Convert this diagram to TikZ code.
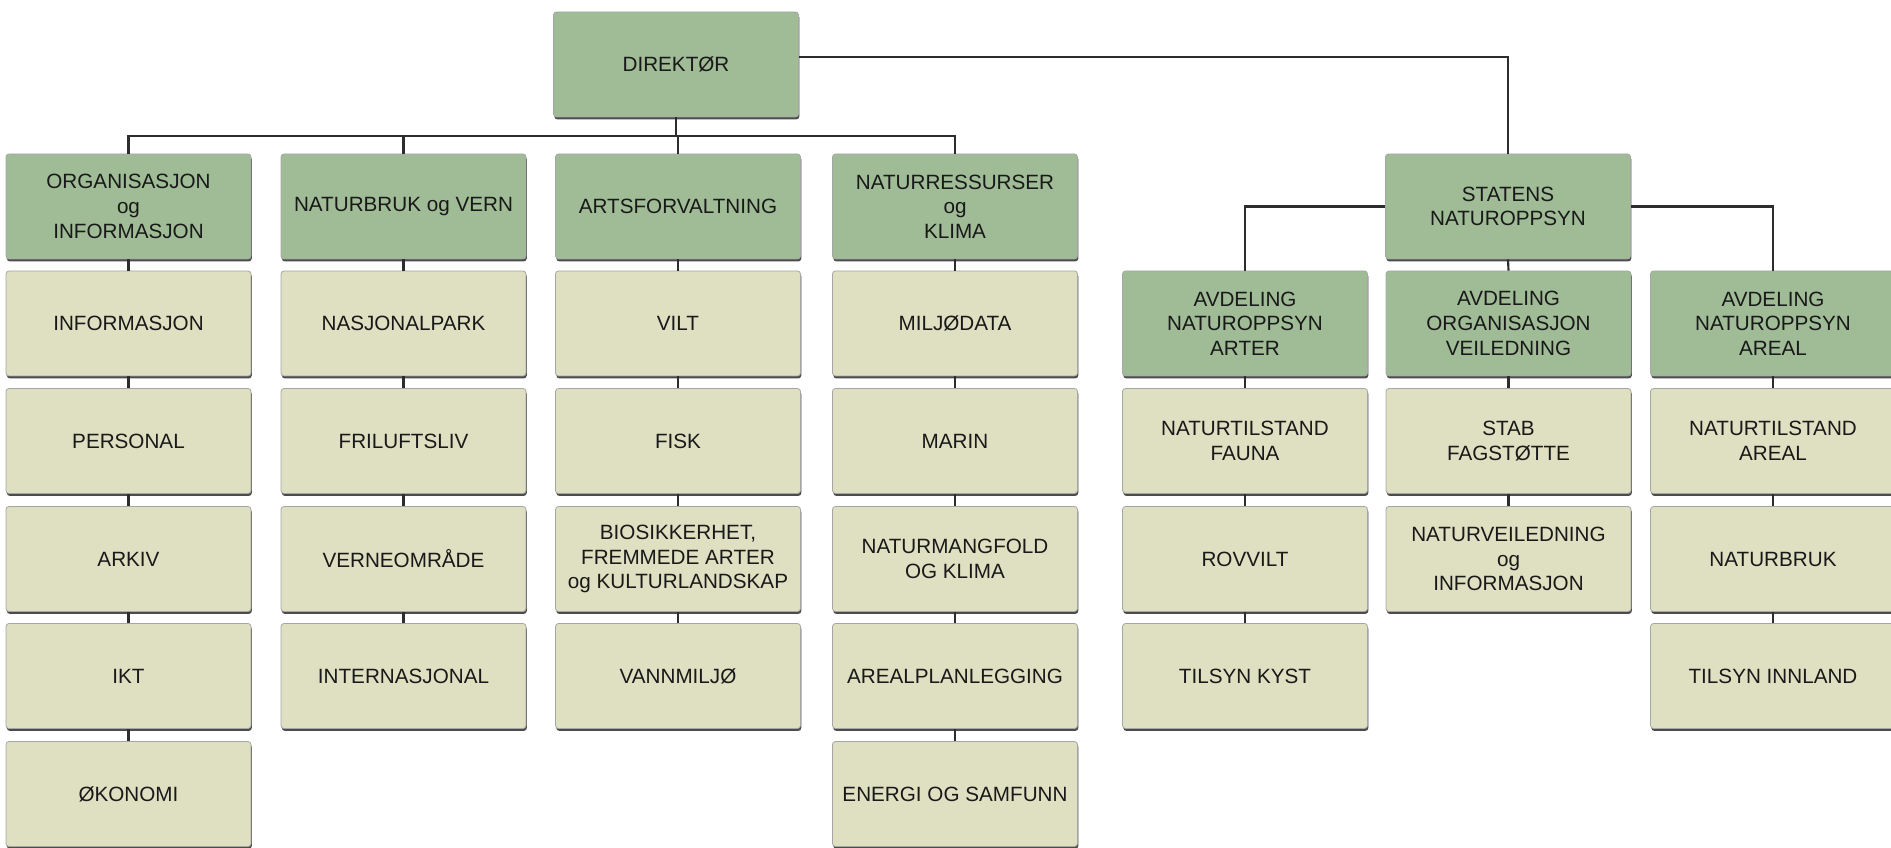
\documentclass[tikz,border=0pt]{standalone}
\usepackage{fontspec}
\setmainfont{Liberation Sans}
\usetikzlibrary{shadows}

\definecolor{headgreen}{RGB}{160,188,150}
\definecolor{unitbeige}{RGB}{223,224,193}
\definecolor{textgrey}{RGB}{25,25,25}
\definecolor{linegrey}{RGB}{45,45,45}

\tikzset{every picture/.style={line width=0.75pt}}
\tikzset{
  box/.style={rectangle, rounded corners=2.25pt, minimum width=183.75pt, minimum height=78.75pt,
    inner sep=0.75pt, align=center, text=textgrey, draw=black!35, line width=0.6pt,
    font=\fontsize{15.5}{18.5}\selectfont,
    drop shadow={shadow xshift=0.6pt, shadow yshift=-1.8pt, fill=black, opacity=0.7}},
  headbox/.style={box, fill=headgreen},
  unitbox/.style={box, fill=unitbeige},
  link/.style={draw=linegrey, line width=1.6pt}
}

\begin{document}
\begin{tikzpicture}[x=0.75pt,y=0.75pt,yscale=-1,xscale=1]
\useasboundingbox (0,0) rectangle (1891,848);
\clip (0,0) rectangle (1891,848);

%Director [id:dir]
\node [headbox] (dir) at (676,64.5) {DIREKTØR};
%Departments
\node [headbox] (org) at (128.5,206.5) {ORGANISASJON\\og\\INFORMASJON};
\node [headbox] (natvern) at (403.5,206.5) {NATURBRUK og VERN};
\node [headbox] (arts) at (678,206.5) {ARTSFORVALTNING};
\node [headbox] (nres) at (955,206.5) {NATURRESSURSER\\og\\KLIMA};
%Statens naturoppsyn
\node [headbox] (sno) at (1508,206.5) {STATENS\\NATUROPPSYN};
\node [headbox] (avdart) at (1245,323.5) {AVDELING\\NATUROPPSYN\\ARTER};
\node [headbox] (avdorg) at (1508.5,323.5) {AVDELING\\ORGANISASJON\\VEILEDNING};
\node [headbox] (avdareal) at (1773,323.5) {AVDELING\\NATUROPPSYN\\AREAL};

% Text Node - column 1
\node [unitbox] (info) at (128.5,323.5) {INFORMASJON};
\node [unitbox] (personal) at (128.5,441) {PERSONAL};
\node [unitbox] (arkiv) at (128.5,559) {ARKIV};
\node [unitbox] (ikt) at (128.5,676) {IKT};
\node [unitbox] (okonomi) at (128.5,794) {ØKONOMI};
% Text Node - column 2
\node [unitbox] (nasjpark) at (403.5,323.5) {NASJONALPARK};
\node [unitbox] (friluft) at (403.5,441) {FRILUFTSLIV};
\node [unitbox] (verneomr) at (403.5,559) {VERNEOMRÅDE};
\node [unitbox] (internasj) at (403.5,676) {INTERNASJONAL};
% Text Node - column 3
\node [unitbox] (vilt) at (678,323.5) {VILT};
\node [unitbox] (fisk) at (678,441) {FISK};
\node [unitbox] (biosikk) at (678,559) {BIOSIKKERHET,\\FREMMEDE ARTER\\og KULTURLANDSKAP};
\node [unitbox] (vannmiljo) at (678,676) {VANNMILJØ};
% Text Node - column 4
\node [unitbox] (miljodata) at (955,323.5) {MILJØDATA};
\node [unitbox] (marin) at (955,441) {MARIN};
\node [unitbox] (natmang) at (955,559) {NATURMANGFOLD\\OG KLIMA};
\node [unitbox] (arealplan) at (955,676) {AREALPLANLEGGING};
\node [unitbox] (energi) at (955,794) {ENERGI OG SAMFUNN};
% Text Node - column 5
\node [unitbox] (fauna) at (1245,441) {NATURTILSTAND\\FAUNA};
\node [unitbox] (rovvilt) at (1245,559) {ROVVILT};
\node [unitbox] (kyst) at (1245,676) {TILSYN KYST};
% Text Node - column 6
\node [unitbox] (stab) at (1508.5,441) {STAB\\FAGSTØTTE};
\node [unitbox] (natveil) at (1508.5,559) {NATURVEILEDNING\\og\\INFORMASJON};
% Text Node - column 7
\node [unitbox] (areal) at (1773,441) {NATURTILSTAND\\AREAL};
\node [unitbox] (natbruk) at (1773,559) {NATURBRUK};
\node [unitbox] (innland) at (1773,676) {TILSYN INNLAND};

%Lines
\coordinate (bus) at (0,136);
\coordinate (top) at (1508,57);
\draw [link, line width=2pt] (dir.east |- top) -- (top) -- (sno.north);
\draw [link] (dir.south) -- (dir.south |- bus);
\draw [link] (org.north) -- (org.north |- bus) -- (nres.north |- bus) -- (nres.north);
\draw [link] (natvern.north) -- (natvern.north |- bus);
\draw [link] (arts.north) -- (arts.north |- bus);
\draw [link] (sno.west) -| (avdart.north);
\draw [link] (sno.east) -| (avdareal.north);
\draw [link] (sno.south) -- (avdorg.north);

\draw [link] (org.south) -- (info.north);
\draw [link] (info.south) -- (personal.north);
\draw [link] (personal.south) -- (arkiv.north);
\draw [link] (arkiv.south) -- (ikt.north);
\draw [link] (ikt.south) -- (okonomi.north);

\draw [link] (natvern.south) -- (nasjpark.north);
\draw [link] (nasjpark.south) -- (friluft.north);
\draw [link] (friluft.south) -- (verneomr.north);
\draw [link] (verneomr.south) -- (internasj.north);

\draw [link] (arts.south) -- (vilt.north);
\draw [link] (vilt.south) -- (fisk.north);
\draw [link] (fisk.south) -- (biosikk.north);
\draw [link] (biosikk.south) -- (vannmiljo.north);

\draw [link] (nres.south) -- (miljodata.north);
\draw [link] (miljodata.south) -- (marin.north);
\draw [link] (marin.south) -- (natmang.north);
\draw [link] (natmang.south) -- (arealplan.north);
\draw [link] (arealplan.south) -- (energi.north);

\draw [link] (avdart.south) -- (fauna.north);
\draw [link] (fauna.south) -- (rovvilt.north);
\draw [link] (rovvilt.south) -- (kyst.north);

\draw [link] (avdorg.south) -- (stab.north);
\draw [link] (stab.south) -- (natveil.north);

\draw [link] (avdareal.south) -- (areal.north);
\draw [link] (areal.south) -- (natbruk.north);
\draw [link] (natbruk.south) -- (innland.north);
\end{tikzpicture}
\end{document}
